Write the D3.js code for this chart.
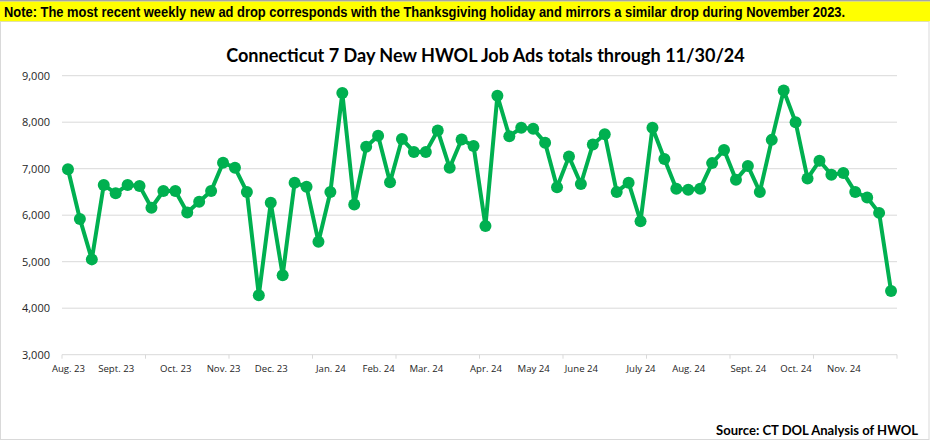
<!DOCTYPE html>
<html>
<head>
<meta charset="utf-8">
<script src="https://cdn.jsdelivr.net/npm/d3@7"></script>
<style>
  html, body { margin: 0; padding: 0; background: #fff; }
  svg { display: block; }
</style>
</head>
<body>
<svg id="chart" width="930" height="441"></svg>
<script>
// ---- data ----
const noteText = "Note:  The most recent weekly new ad drop corresponds with the Thanksgiving holiday and mirrors a similar drop during November 2023.";
const titleText = "Connecticut 7 Day New HWOL Job Ads totals through 11/30/24";
const sourceText = "Source: CT DOL Analysis of HWOL";

// weekly new job ads, week ending 8/5/23 through 11/30/24 (70 weeks)
const jobAds = [
  6990, 5920, 5050, 6650, 6470, 6650, 6630, 6160, 6520, 6520,
  6060, 6290, 6520, 7130, 7020, 6500, 4280, 6270, 4710, 6700,
  6610, 5430, 6500, 8630, 6230, 7470, 7710, 6710, 7640, 7360,
  7360, 7820, 7020, 7630, 7490, 5770, 8570, 7700, 7880, 7860,
  7560, 6600, 7260, 6670, 7520, 7740, 6500, 6700, 5870, 7880,
  7210, 6570, 6545, 6570, 7120, 7400, 6760, 7060, 6500, 7620,
  8680, 8000, 6790, 7170, 6870, 6910, 6500, 6380, 6050, 4370
];

// month labels and the index of the first week ending in that month
const monthLabels = ["Aug. 23", "Sept. 23", "Oct. 23", "Nov. 23", "Dec. 23", "Jan. 24", "Feb. 24", "Mar. 24",
                     "Apr. 24", "May 24", "June 24", "July 24", "Aug. 24", "Sept. 24", "Oct. 24", "Nov. 24"];
const monthIndex = [0, 4, 9, 13, 17, 22, 26, 30, 35, 39, 43, 48, 52, 57, 61, 65];

const yTicks = [3000, 4000, 5000, 6000, 7000, 8000, 9000];
const tickEvery = 7;

// ---- drawing ----
(function () {
const svg = d3.select("#chart");
const W = 930, H = 441;
const pLeft = 62, pRight = 897, pTop = 75.7, pBottom = 354.7;
const green = "#00B050";

// text fitted horizontally to a given width (keeps glyph height)
function fitText(str, x, y, width, anchor, family, size, weight) {
  const t = svg.append("text").attr("x", 0).attr("y", 0)
    .attr("text-anchor", anchor)
    .attr("font-family", family).attr("font-weight", weight)
    .attr("font-size", size).attr("fill", "#000").text(str);
  const nat = t.node().getComputedTextLength();
  const s = nat > 0 ? width / nat : 1;
  t.attr("transform", `translate(${x},${y}) scale(${s},1)`);
  return t;
}

// frame
svg.append("rect").attr("x", 0).attr("y", 0).attr("width", W).attr("height", H).attr("fill", "#fff");
svg.append("rect").attr("x", 0.5).attr("y", 21.5).attr("width", 928.5).attr("height", 418)
  .attr("fill", "#fff").attr("stroke", "#d9d9d9").attr("stroke-width", 1);
// top bar
svg.append("rect").attr("x", 0).attr("y", 0).attr("width", W).attr("height", 1.6).attr("fill", "#a6a6a6");
svg.append("rect").attr("x", 0).attr("y", 1.6).attr("width", W).attr("height", 19.6).attr("fill", "#ffff00");
fitText(noteText, 4, 16.6, 841, "start",
  "'Liberation Sans Narrow', 'Arial Narrow', 'Liberation Sans', sans-serif", 15.2, "bold");

// title
fitText(titleText, 485.5, 62, 519, "middle", "Lato, 'Open Sans', sans-serif", 18.5, "bold");

// scales
const xBand = d3.scaleBand().domain(d3.range(jobAds.length)).range([pLeft, pRight]).padding(0);
const xc = i => xBand(i) + xBand.bandwidth() / 2;
const y = d3.scaleLinear().domain([3000, 9000]).range([pBottom, pTop]);

// gridlines
svg.append("g").selectAll("line").data(yTicks.slice(1)).join("line")
  .attr("x1", pLeft).attr("x2", pRight)
  .attr("y1", d => y(d)).attr("y2", d => y(d))
  .attr("stroke", "#d9d9d9").attr("stroke-width", 1);

// y axis labels
const yAxis = d3.axisLeft(y).tickValues(yTicks).tickSize(0).tickPadding(12)
  .tickFormat(d3.format(","));
const gy = svg.append("g").attr("transform", `translate(${pLeft},0)`).call(yAxis);
gy.select(".domain").remove();
gy.selectAll("text").attr("font-family", "'Open Sans', Lato, sans-serif")
  .attr("font-size", 11).attr("fill", "#262626");

// x axis line and ticks
svg.append("line").attr("x1", pLeft).attr("x2", pRight).attr("y1", pBottom).attr("y2", pBottom)
  .attr("stroke", "#d9d9d9").attr("stroke-width", 1);
const tickPos = d3.range(0, jobAds.length, tickEvery).map(i => xBand(i)).concat([pRight]);
svg.append("g").selectAll("line").data(tickPos).join("line")
  .attr("x1", d => d).attr("x2", d => d).attr("y1", pBottom).attr("y2", pBottom + 4)
  .attr("stroke", "#d9d9d9").attr("stroke-width", 1);

// month labels
svg.append("g").selectAll("text").data(monthLabels).join("text")
  .attr("x", (d, k) => xc(monthIndex[k]) + 0.5)
  .attr("y", 372)
  .attr("text-anchor", "middle")
  .attr("font-family", "'Open Sans', Lato, sans-serif").attr("font-size", 9.6)
  .attr("fill", "#262626")
  .text(d => d);

// line
const line = d3.line().x((d, i) => xc(i)).y(d => y(d));
svg.append("path").datum(jobAds).attr("d", line)
  .attr("fill", "none").attr("stroke", green).attr("stroke-width", 4)
  .attr("stroke-linejoin", "round");
svg.append("g").selectAll("circle").data(jobAds).join("circle")
  .attr("cx", (d, i) => xc(i)).attr("cy", d => y(d)).attr("r", 6)
  .attr("fill", green);

// source
fitText(sourceText, 918, 435, 202, "end", "Lato, 'Open Sans', sans-serif", 13.8, "bold");
})();
</script>
</body>
</html>
